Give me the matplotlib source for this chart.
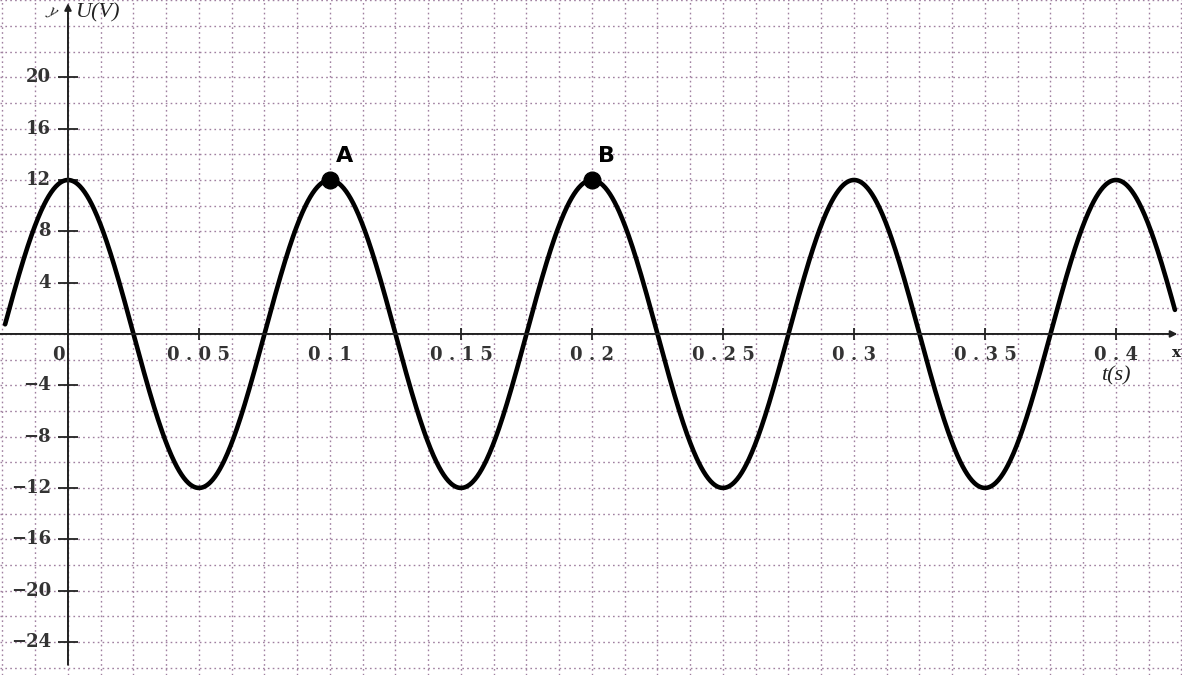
import matplotlib.pyplot as plt
import numpy as np

# signal parameters
amplitude = 12          # V
period = 0.1            # s
t_start, t_end = -0.024, 0.4225

# labelled points
point_names = ["A", "B"]
point_t = [0.1, 0.2]
point_u = [12, 12]

# tick labels
x_ticks = [0.05, 0.1, 0.15, 0.2, 0.25, 0.3, 0.35, 0.4]
x_tick_labels = ["0 . 0 5", "0 . 1", "0 . 1 5", "0 . 2", "0 . 2 5", "0 . 3", "0 . 3 5", "0 . 4"]
y_ticks = [20, 16, 12, 8, 4, -4, -8, -12, -16, -20, -24]

fig = plt.figure(figsize=(11.82, 6.75), dpi=100)
ax = fig.add_axes([0, 0, 1, 1])
ax.set_xlim(-0.02595, 0.4252)
ax.set_ylim(-26.58, 26.03)
for s in ax.spines.values():
    s.set_visible(False)

# dotted grid
ax.set_xticks(np.arange(-0.025, 0.43, 0.0125))
ax.set_yticks(np.arange(-26, 27, 2))
ax.tick_params(length=0, labelbottom=False, labelleft=False)
ax.grid(True, color="#a080a0", linestyle=(0, (1.2, 2.3)), linewidth=1.0)

# axes with arrows
ax.annotate("", xy=(0.4245, 0), xytext=(-0.03, 0),
            arrowprops=dict(arrowstyle="-|>", color="#222222", lw=1.4, mutation_scale=10))
ax.annotate("", xy=(0, 26.0), xytext=(0, -26.0),
            arrowprops=dict(arrowstyle="-|>", color="#222222", lw=1.4, mutation_scale=10))

# tick marks
ax.plot(x_ticks, [0] * len(x_ticks), linestyle="none", marker="|", markersize=9,
        markeredgewidth=1.3, color="#222222")
ax.plot([0] * len(y_ticks), y_ticks, linestyle="none", marker="_", markersize=14,
        markeredgewidth=1.3, color="#222222")

tick_font = dict(family="DejaVu Serif", fontsize=13, fontweight="bold", color="#333333")
for xv, lab in zip(x_ticks, x_tick_labels):
    ax.text(xv, -0.9, lab, ha="center", va="top", **tick_font)
ax.text(-0.0035, -0.9, "0", ha="center", va="top", **tick_font)
for yv in y_ticks:
    lab = str(yv).replace("-", "\u2212")
    ax.text(-0.0065, yv, lab, ha="right", va="center", **tick_font)

# axis names
ax.text(0.0115, 25.0, "U(V)", ha="center", va="center", family="Liberation Serif",
        style="italic", fontsize=16, color="#222222")
ax.text(0.4, -3.3, "t(s)", ha="center", va="center", family="Liberation Serif",
        style="italic", fontsize=16, color="#222222")
ax.text(-0.003, 25.2, "y", ha="right", va="center", family="Liberation Serif",
        style="italic", fontsize=12, color="#222222", rotation=-30)
ax.text(0.4250, -0.9, "x", ha="right", va="top", family="DejaVu Serif",
        fontweight="bold", fontsize=11, color="#222222")

# the signal
t = np.linspace(t_start, t_end, 1500)
u = amplitude * np.cos(2 * np.pi * t / period)
ax.plot(t, u, color="black", linewidth=3.3, solid_capstyle="round")

ax.plot(point_t, point_u, "o", color="black", markersize=12, zorder=5)
for name, pt, pu in zip(point_names, point_t, point_u):
    ax.text(pt + 0.0055, pu + 1.1, name, ha="center", va="bottom",
            fontsize=16, fontweight="bold", family="DejaVu Sans")

fig.savefig("out.png", dpi=100)
